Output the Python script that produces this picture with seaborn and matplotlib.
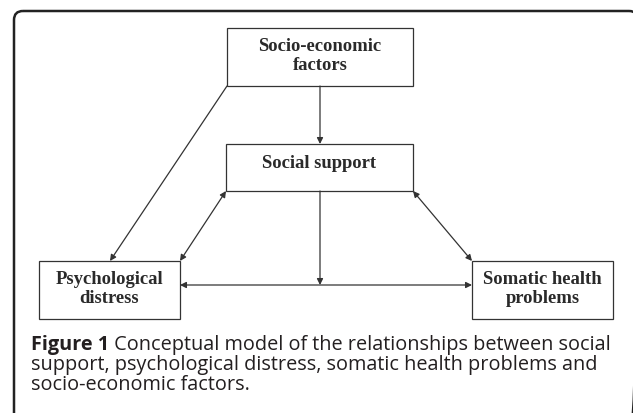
import matplotlib
matplotlib.use("Agg")
import matplotlib.pyplot as plt
import seaborn as sns
from matplotlib.patches import Rectangle, FancyBboxPatch

# Node labels of the conceptual model
nodes = ["socio", "social", "psych", "somatic"]
node_labels = ["Socio-economic\nfactors", "Social support", "Psychological\ndistress", "Somatic health\nproblems"]

# Paths between the nodes (start, end, two-headed?)
edges = [
    ("socio", "social", False),
    ("socio", "psych", False),
    ("social", "psych", True),
    ("social", "somatic", True),
    ("psych", "somatic", True),
]

caption_bold = "Figure 1"
caption_lines = [
    " Conceptual model of the relationships between social",
    "support, psychological distress, somatic health problems and",
    "socio-economic factors.",
]

# layout in pixels (x0, y0, x1, y1), y grows downward
boxes = {
    "socio": (227, 28, 413, 86),
    "social": (226, 144, 413, 191),
    "psych": (39, 261, 180, 319),
    "somatic": (472, 261, 613, 319),
}
text_y = {"socio": 56, "social": 163, "psych": 289, "somatic": 289}

sns.set_style("white")
fig = plt.figure(figsize=(6.33, 4.13), dpi=100)
ax = fig.add_axes([0, 0, 1, 1])
ax.set_xlim(0, 633)
ax.set_ylim(413, 0)
ax.axis("off")

# outer rounded frame (runs off the bottom edge)
frame = FancyBboxPatch((14, 11), 624, 430, boxstyle="round,pad=0,rounding_size=9",
                       fill=False, lw=1.8, ec="#222222")
ax.add_patch(frame)

line_col = "#333333"
for key, label in zip(nodes, node_labels):
    x0, y0, x1, y1 = boxes[key]
    ax.add_patch(Rectangle((x0, y0), x1 - x0, y1 - y0, fill=False, lw=0.9, ec=line_col))
    ax.text((x0 + x1) / 2, text_y[key], label, ha="center", va="center",
            family="Liberation Serif", weight="bold", fontsize=13.4,
            color="#2a2a2a", linespacing=1.1)

# anchor points for each edge
anchors = {
    ("socio", "social"): ((320, 86), (320, 144)),
    ("socio", "psych"): ((227, 86), (110, 261)),
    ("social", "psych"): ((226, 191), (180, 261)),
    ("social", "somatic"): ((413, 191), (472, 261)),
    ("psych", "somatic"): ((180, 285), (472, 285)),
}
for a, b, both in edges:
    start, end = anchors[(a, b)]
    ax.annotate("", xy=end, xytext=start,
                arrowprops=dict(arrowstyle="<|-|>" if both else "-|>", lw=0.9,
                                color=line_col, shrinkA=0, shrinkB=0,
                                mutation_scale=9))

# moderation arrow from social support down onto the horizontal path
ax.annotate("", xy=(320, 285), xytext=(320, 191),
            arrowprops=dict(arrowstyle="-|>", lw=0.9, color=line_col,
                            shrinkA=0, shrinkB=0, mutation_scale=9))

# caption
cap_font = dict(family="Open Sans", fontsize=14.3, color="#231f20", va="center")
fig.canvas.draw()
renderer = fig.canvas.get_renderer()
t = ax.text(31, 345, caption_bold, weight="bold", **cap_font)
bb = t.get_window_extent(renderer)
x_after = ax.transData.inverted().transform((bb.x1, bb.y0))[0]
ax.text(x_after, 345, caption_lines[0], **cap_font)
ax.text(31, 365, caption_lines[1], **cap_font)
ax.text(31, 385, caption_lines[2], **cap_font)

fig.savefig("out.png", dpi=100)
